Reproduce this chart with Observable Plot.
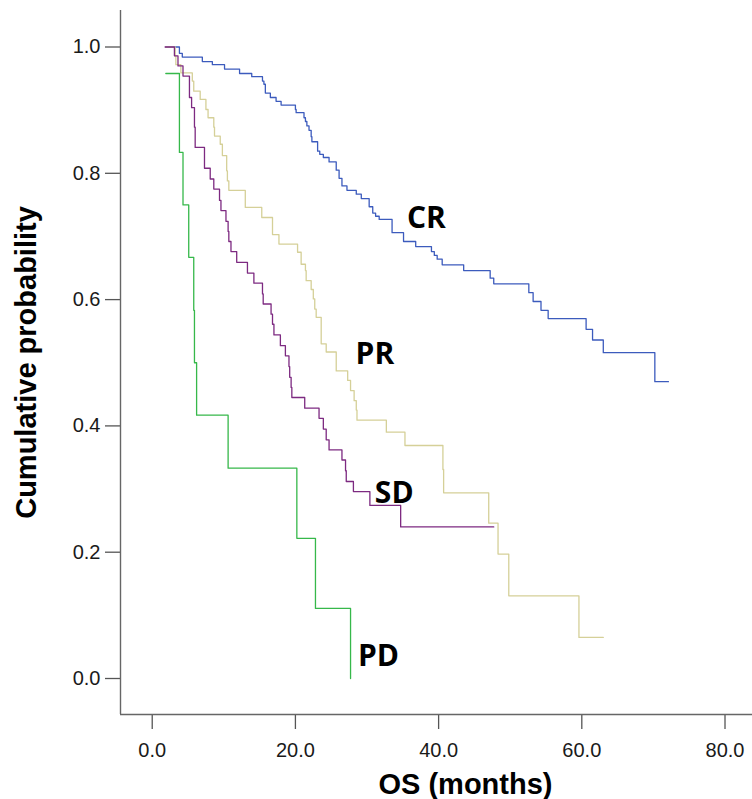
<!DOCTYPE html>
<html>
<head>
<meta charset="utf-8">
<script src="https://cdn.jsdelivr.net/npm/d3@7"></script>
<script src="https://cdn.jsdelivr.net/npm/@observablehq/plot@0.6"></script>
<style>
  html, body { margin: 0; padding: 0; background: #fff; }
</style>
</head>
<body>
<div id="chart"></div>
<script>
// Kaplan–Meier overall survival by response group (step-after curves)
const groups = ["CR", "PR", "SD", "PD"];

const crTime = [1.9, 3.8, 4.2, 7.0, 8.4, 10.1, 12.2, 13.9, 15.4, 15.6, 15.8, 16.5, 17.3, 18.0, 20.0, 20.1, 21.2, 21.4, 21.6, 21.9, 22.2, 22.3, 23.1, 23.4, 23.9, 24.7, 25.7, 26.1, 26.5, 27.2, 28.5, 29.2, 30.3, 30.8, 31.2, 31.7, 33.5, 35.1, 36.8, 39.0, 39.4, 39.8, 40.5, 43.5, 47.2, 47.7, 52.6, 53.2, 54.3, 55.3, 60.6, 61.5, 63.0, 70.2, 72.1];
const crSurv = [1.0, 0.990, 0.984, 0.977, 0.972, 0.965, 0.958, 0.953, 0.946, 0.941, 0.927, 0.920, 0.914, 0.908, 0.901, 0.896, 0.888, 0.882, 0.875, 0.868, 0.858, 0.850, 0.835, 0.830, 0.825, 0.818, 0.805, 0.792, 0.780, 0.773, 0.767, 0.760, 0.747, 0.737, 0.732, 0.727, 0.706, 0.692, 0.684, 0.676, 0.670, 0.664, 0.655, 0.646, 0.634, 0.625, 0.611, 0.597, 0.583, 0.570, 0.553, 0.536, 0.516, 0.470, 0.470];

const prTime = [1.9, 3.2, 3.3, 4.0, 5.6, 5.8, 6.7, 7.5, 7.8, 8.6, 8.7, 9.5, 9.8, 10.4, 10.5, 10.7, 13.0, 15.3, 16.8, 17.7, 20.3, 20.8, 21.4, 21.5, 22.2, 22.5, 22.7, 22.9, 23.6, 24.3, 25.7, 27.3, 27.7, 28.2, 28.5, 28.6, 32.7, 35.3, 40.6, 40.7, 47.0, 48.3, 49.8, 59.6, 63.0];
const prSurv = [1.0, 0.986, 0.972, 0.959, 0.946, 0.930, 0.917, 0.901, 0.888, 0.873, 0.859, 0.846, 0.828, 0.804, 0.788, 0.773, 0.746, 0.730, 0.703, 0.688, 0.675, 0.656, 0.646, 0.630, 0.616, 0.601, 0.585, 0.572, 0.530, 0.517, 0.487, 0.472, 0.456, 0.440, 0.425, 0.409, 0.390, 0.369, 0.331, 0.294, 0.246, 0.197, 0.131, 0.065, 0.065];

const sdTime = [1.8, 3.1, 3.6, 4.3, 5.2, 5.5, 5.9, 6.0, 7.3, 8.1, 8.6, 9.4, 9.6, 10.3, 10.6, 10.7, 11.0, 11.8, 13.3, 14.2, 15.4, 15.5, 16.6, 16.8, 17.0, 17.9, 18.6, 19.1, 19.2, 19.4, 19.5, 21.3, 23.3, 23.9, 24.3, 24.7, 26.5, 27.0, 27.1, 28.1, 30.4, 34.7, 47.7];
const sdSurv = [1.0, 0.986, 0.970, 0.954, 0.920, 0.904, 0.873, 0.841, 0.808, 0.791, 0.775, 0.757, 0.741, 0.724, 0.708, 0.692, 0.676, 0.659, 0.642, 0.626, 0.609, 0.593, 0.577, 0.561, 0.544, 0.527, 0.511, 0.494, 0.477, 0.461, 0.445, 0.428, 0.412, 0.395, 0.378, 0.362, 0.346, 0.329, 0.312, 0.296, 0.274, 0.240, 0.240];

const pdTime = [1.9, 3.8, 4.3, 5.1, 5.8, 5.9, 6.2, 10.6, 20.2, 22.8, 27.7];
const pdSurv = [0.958, 0.833, 0.750, 0.667, 0.583, 0.500, 0.417, 0.333, 0.222, 0.111, 0.0];

const xTicks = [0, 20, 40, 60, 80];
const yTicks = [0, 0.2, 0.4, 0.6, 0.8, 1.0];

// Curve colours per group
const groupColors = ["#3c5bbd", "#d5d098", "#7d2a81", "#36b84a"];

// Where each group's name is written (months, probability)
const labelAt = {
  CR: [38.3, 0.729],
  PR: [31.1, 0.513],
  SD: [33.8, 0.293],
  PD: [31.6, 0.035]
};

const series = {CR: [crTime, crSurv], PR: [prTime, prSurv], SD: [sdTime, sdSurv], PD: [pdTime, pdSurv]};
const rows = groups.flatMap(g => series[g][0].map((t, i) => ({group: g, time: t, surv: series[g][1][i]})));
const labels = groups.map(g => ({group: g, time: labelAt[g][0], surv: labelAt[g][1]}));

const xDomain = [-4.43, 83.84];
const yDomain = [-0.057, 1.0578];

const chart = Plot.plot({
  width: 752,
  height: 799,
  marginLeft: 120,
  marginRight: 0,
  marginTop: 10,
  marginBottom: 85,
  style: {fontFamily: "'Liberation Sans', Arial, sans-serif", color: "#1a1a1a", background: "#fff"},
  x: {domain: xDomain},
  y: {domain: yDomain},
  color: {domain: groups, range: groupColors},
  marks: [
    Plot.axisY({ticks: yTicks, tickFormat: d3.format(".1f"), tickSize: 15, tickPadding: 5, fontSize: 20, stroke: "#555", strokeWidth: 1.3, label: null}),
    Plot.axisX({ticks: xTicks, tickFormat: d3.format(".1f"), tickSize: 15, tickPadding: 13, fontSize: 20, stroke: "#555", strokeWidth: 1.3, label: null}),
    Plot.ruleX([xDomain[0]], {stroke: "#666", strokeWidth: 1.4}),
    Plot.ruleY([yDomain[0]], {stroke: "#666", strokeWidth: 1.4}),
    Plot.line(rows, {x: "time", y: "surv", z: "group", stroke: "group", curve: "step-after", strokeWidth: 1.3}),
    Plot.text(labels, {x: "time", y: "surv", text: "group", fontSize: 30, fontWeight: "bold", fontFamily: "'Open Sans', sans-serif", fill: "#000"}),
    Plot.text(["Cumulative probability"], {frameAnchor: "left", textAnchor: "middle", lineAnchor: "middle", rotate: -90, dx: -94, fontSize: 29, fontWeight: "bold", fill: "#000"}),
    Plot.text(["OS (months)"], {frameAnchor: "bottom", textAnchor: "middle", lineAnchor: "middle", dx: 29, dy: 70, fontSize: 29, fontWeight: "bold", fill: "#000"})
  ]
});

document.getElementById("chart").appendChild(chart);
</script>
</body>
</html>
